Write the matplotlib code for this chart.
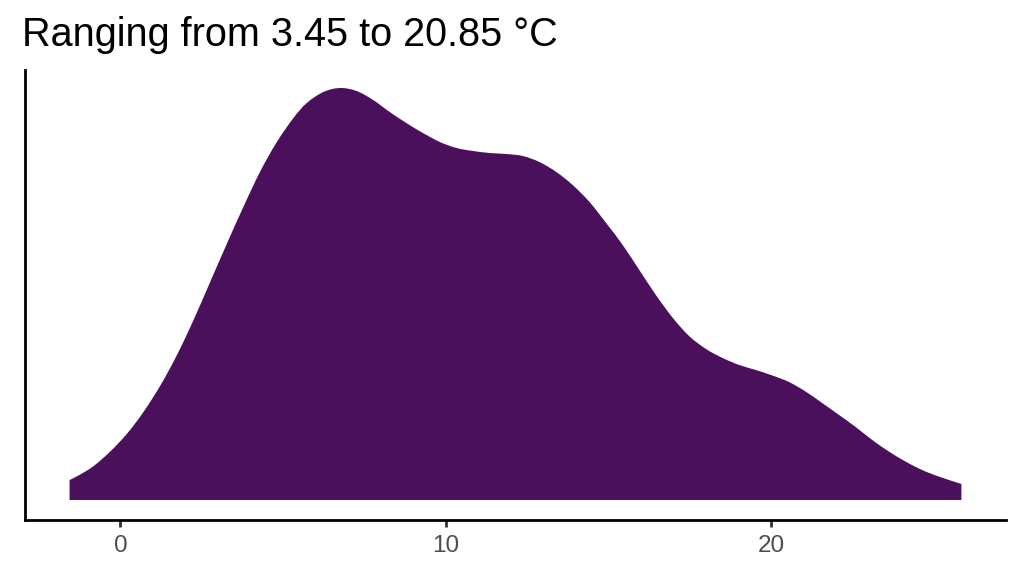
import numpy as np
import matplotlib
matplotlib.use("Agg")
import matplotlib.pyplot as plt
from matplotlib.path import Path
from matplotlib.patches import PathPatch

# Temperature grid (°C) and estimated kernel density (relative units)
temperature = [-1.56, -1.26, -0.82, -0.31, 0.21, 0.71, 1.23, 1.74, 2.25, 2.76,
               3.27, 3.78, 4.29, 4.81, 5.32, 5.73, 6.24, 6.75, 7.26, 7.77,
               8.28, 8.79, 9.30, 9.82, 10.33, 10.84, 11.35, 11.86, 12.37, 12.88,
               13.40, 13.90, 14.42, 14.93, 15.44, 15.95, 16.46, 16.97, 17.48, 18.00,
               18.51, 19.02, 19.53, 20.04, 20.55, 21.06, 21.57, 22.09, 22.60, 23.11,
               23.62, 24.13, 24.64, 25.15, 25.85]
density_px = [20, 25, 34, 48.5, 66.5, 88, 114.5, 145, 180, 218,
              256, 293, 328, 358, 382, 397, 408, 412, 409, 400,
              388, 377, 367, 358, 352, 349, 347, 346, 344, 338,
              328, 315, 298, 277, 255, 230, 205, 182.5, 164, 151,
              142, 135, 130, 124.5, 118, 108.5, 97, 85, 73, 60,
              48.5, 38.5, 30, 23.5, 16]
density = [v / 4800.0 for v in density_px]

xticks = [0, 10, 20]
title = "Ranging from 3.45 to 20.85 °C"

plt.rcParams['font.family'] = ['Liberation Sans', 'DejaVu Sans']

fig = plt.figure(figsize=(10.24, 5.76), dpi=100)
ax = fig.add_axes([25 / 1024, 1 - 520 / 576, (1006 - 25) / 1024, (520 - 70) / 576])

x = np.array(temperature)
y = np.array(density)

# Smooth outline through the data points (Catmull-Rom rendered as cubic Bezier)
verts = [(x[0], 0.0), (x[0], y[0])]
codes = [Path.MOVETO, Path.LINETO]
n = len(x)
for i in range(n - 1):
    p0 = np.array([x[max(i - 1, 0)], y[max(i - 1, 0)]])
    p1 = np.array([x[i], y[i]])
    p2 = np.array([x[i + 1], y[i + 1]])
    p3 = np.array([x[min(i + 2, n - 1)], y[min(i + 2, n - 1)]])
    c1 = p1 + (p2 - p0) / 6.0
    c2 = p2 - (p3 - p1) / 6.0
    verts += [tuple(c1), tuple(c2), tuple(p2)]
    codes += [Path.CURVE4, Path.CURVE4, Path.CURVE4]
verts += [(x[-1], 0.0), (x[0], 0.0)]
codes += [Path.LINETO, Path.CLOSEPOLY]
ax.add_patch(PathPatch(Path(verts, codes), facecolor="#4A105C", edgecolor="none"))

xr = x.max() - x.min()
ax.set_xlim(x.min() - 0.05 * xr, x.max() + 0.05 * xr)
ax.set_ylim(-20 / 4800.0, 430 / 4800.0)

ax.set_xticks(xticks)
ax.set_xticklabels([str(t) for t in xticks])
ax.set_yticks([])
for s in ["top", "right"]:
    ax.spines[s].set_visible(False)
for s in ["left", "bottom"]:
    ax.spines[s].set_linewidth(2.0)
    ax.spines[s].set_color("black")
ax.tick_params(axis="x", length=5, width=2, color="#333333",
               labelsize=17.5, labelcolor="#4D4D4D", pad=6)

fig.text(22 / 1024, 1 - 46 / 576, title, fontsize=28.5, color="black",
         ha="left", va="baseline")

fig.savefig("out.png", dpi=100, facecolor="white")
